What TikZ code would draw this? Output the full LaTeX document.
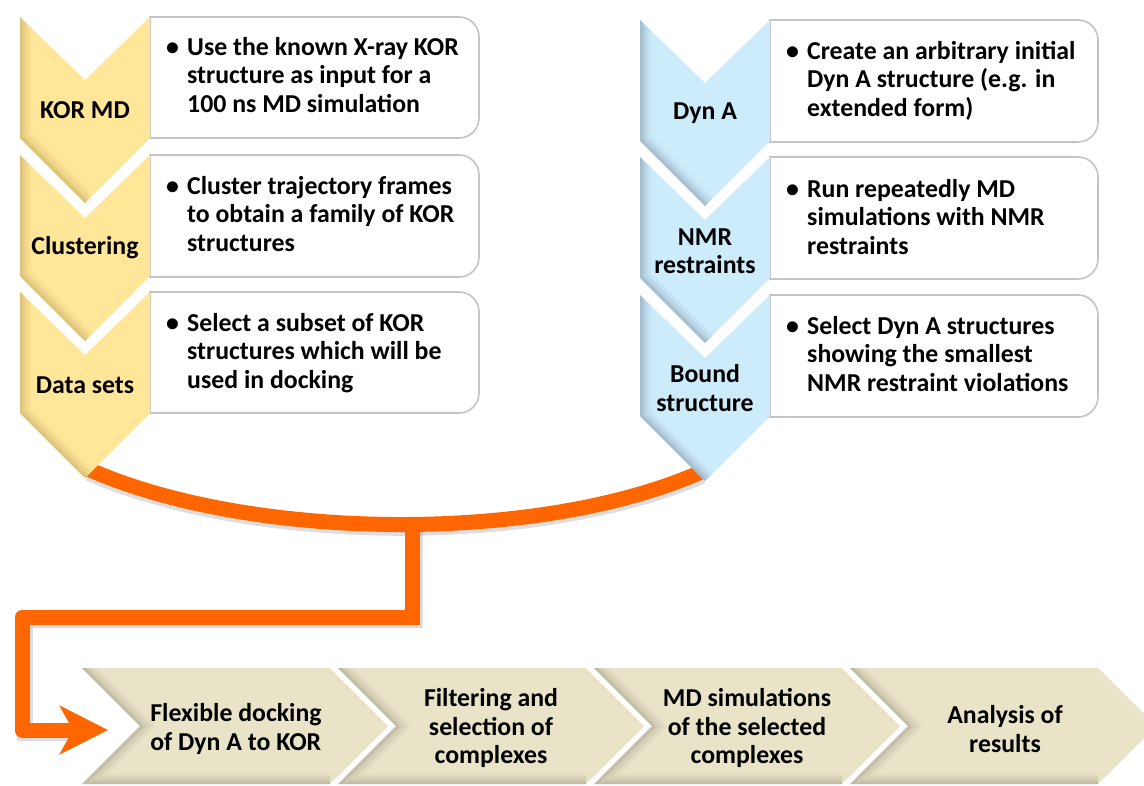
\documentclass[tikz,border=0pt]{standalone}
\usepackage{fontspec}
\setmainfont{Carlito}
\usetikzlibrary{arrows.meta}
\definecolor{yel}{HTML}{FFE699}
\definecolor{yeldark}{HTML}{9C8640}
\definecolor{blu}{HTML}{CCEBFB}
\definecolor{bludark}{HTML}{55687A}
\definecolor{beige}{HTML}{E9E3C8}
\definecolor{beigedark}{HTML}{6E6A58}
\definecolor{orng}{HTML}{FF6600}
\definecolor{boxline}{HTML}{C4C4C4}
\tikzset{
  lbl/.style={font=\fontsize{25.8}{28.5}\selectfont\bfseries, align=center, inner sep=0pt, text=black},
  bul/.style={font=\fontsize{25.8}{28.5}\selectfont\bfseries, anchor=west, inner sep=0pt, text=black},
  txtbox/.style={draw=boxline, line width=1.6pt, fill=white},
  conn/.style={draw=orng, line width=15pt},
  connshadow/.style={draw=black, opacity=0.13, line width=16pt},
}
% vertical chevron: #1 x0, #2 top, #3 fill, #4 shade colour
\newcommand{\vchevron}[4]{%
  \begin{scope}
    \path[fill=#3] (#1,#2) -- ++(65,63) -- ++(65,-63) -- ++(0,121) -- ++(-65,65) -- ++(-65,-65) -- cycle;
    \clip (#1,#2) -- ++(65,63) -- ++(65,-63) -- ++(0,121) -- ++(-65,65) -- ++(-65,-65) -- cycle;
    \foreach \w/\o in {22/0.06,16/0.08,10/0.1,5/0.14} {
      \draw[#4, line width=\w pt, opacity=\o, line join=miter] (#1,#2) -- ++(0,121) -- ++(65,65);
    }
  \end{scope}}
% text box with rounded right corners: #1 x left, #2 top, #3 x right, #4 bottom
\newcommand{\tbox}[4]{%
  \path[txtbox] (#1,#2) -- ({#3-20},#2) arc[start angle=-90, end angle=0, radius=20] -- (#3,{#4-20}) arc[start angle=0, end angle=90, radius=20] -- (#1,#4) -- cycle;}
% horizontal chevron: #1 x left
\newcommand{\hchevron}[1]{%
  \begin{scope}
    \path[fill=beige] (#1,668) -- ++(248,0) -- ++(58,58) -- ++(-58,58) -- ++(-248,0) -- ++(58,-58) -- cycle;
    \clip (#1,668) -- ++(248,0) -- ++(58,58) -- ++(-58,58) -- ++(-248,0) -- ++(58,-58) -- cycle;
    \foreach \w/\o in {22/0.05,16/0.07,10/0.09,5/0.12} {
      \draw[beigedark, line width=\w pt, opacity=\o, line join=miter] (#1,668) -- ++(58,58) -- ++(-58,58) -- ++(248,0);
    }
  \end{scope}}
\newcommand{\bl}{\makebox[21pt][l]{•}}
\begin{document}
\begin{tikzpicture}[x=1pt,y=-1pt]
\useasboundingbox (0,0) rectangle (1144,785);
\fill[white] (0,0) rectangle (1144,785);

% ---------- orange connector (under the chevron tips) ----------
\coordinate (ltip) at (88,469);
\coordinate (rtip) at (701,472);
\coordinate (join) at (412,527);
\coordinate (bend1) at (412,617);
\coordinate (bend2) at (22,617);
\coordinate (bend3) at (22,730);
\coordinate (arrtip) at (108,730);
\draw[connshadow] ([shift={(1,4)}]ltip) .. controls (251,544) and (537,547) .. ([shift={(1,4)}]rtip);
\draw[connshadow] ([shift={(3,3)}]join) -- ([shift={(3,3)}]bend1) -- ([shift={(3,3)}]bend2) -- ([shift={(3,3)}]bend3) -- ([shift={(-20,3)}]arrtip);
\draw[conn] (ltip) .. controls (250,541) and (538,544) .. (rtip);
\draw[conn, line join=miter] (join) -- (bend1) -- ([xshift=7.5pt]bend1);
\draw[conn, line join=round, -{Stealth[length=48pt, width=48pt, inset=13pt]}] ([xshift=7.5pt]bend1) -- (bend2) -- (bend3) -- (arrtip);

% ---------- left column ----------
\tbox{150}{17}{479}{138}
\tbox{150}{155}{479}{277}
\tbox{150}{292}{479}{413}
\vchevron{20}{17}{yel}{yeldark}
\vchevron{20}{155}{yel}{yeldark}
\vchevron{20}{292}{yel}{yeldark}
\node[lbl] (kormd) at (85,110) {KOR MD};
\node[lbl] (clust) at (85,248) {Clustering};
\node[lbl] (dsets) at (85,385) {Data sets};
\node[bul] (t1) at (166,78) {\begin{tabular}{@{}l@{}l@{}}\bl&Use the known X-ray KOR\\&structure as input for a\\&100 ns MD simulation\end{tabular}};
\node[bul] (t2) at (166,217) {\begin{tabular}{@{}l@{}l@{}}\bl&Cluster trajectory frames\\&to obtain a family of KOR\\&structures\end{tabular}};
\node[bul] (t3) at (166,354) {\begin{tabular}{@{}l@{}l@{}}\bl&Select a subset of KOR\\&structures which will be\\&used in docking\end{tabular}};

% ---------- right column ----------
\tbox{770}{20}{1098}{142}
\tbox{770}{157}{1098}{279}
\tbox{770}{295}{1098}{417}
\vchevron{640}{20}{blu}{bludark}
\vchevron{640}{157}{blu}{bludark}
\vchevron{640}{295}{blu}{bludark}
\node[lbl] (dyna) at (705,113) {Dyn A};
\node[lbl] (nmr) at (705,251) {NMR\\restraints};
\node[lbl] (bound) at (705,388) {Bound\\structure};
\node[bul] (u1) at (786,82) {\begin{tabular}{@{}l@{}l@{}}\bl&Create an arbitrary initial\\&Dyn A structure (e.g. in\\&extended form)\end{tabular}};
\node[bul] (u2) at (786,220) {\begin{tabular}{@{}l@{}l@{}}\bl&Run repeatedly MD\\&simulations with NMR\\&restraints\end{tabular}};
\node[bul] (u3) at (786,357) {\begin{tabular}{@{}l@{}l@{}}\bl&Select Dyn A structures\\&showing the smallest\\&NMR restraint violations\end{tabular}};

% ---------- bottom pipeline ----------
\hchevron{82}
\hchevron{338}
\hchevron{594}
\hchevron{850}
\node[lbl, align=left] (s1) at (236,729) {Flexible docking\\of Dyn A to KOR};
\node[lbl] (s2) at (491,728) {Filtering and\\selection of\\complexes};
\node[lbl] (s3) at (747,728) {MD simulations\\of the selected\\complexes};
\node[lbl] (s4) at (1005,729) {Analysis of\\results};
\end{tikzpicture}
\end{document}
